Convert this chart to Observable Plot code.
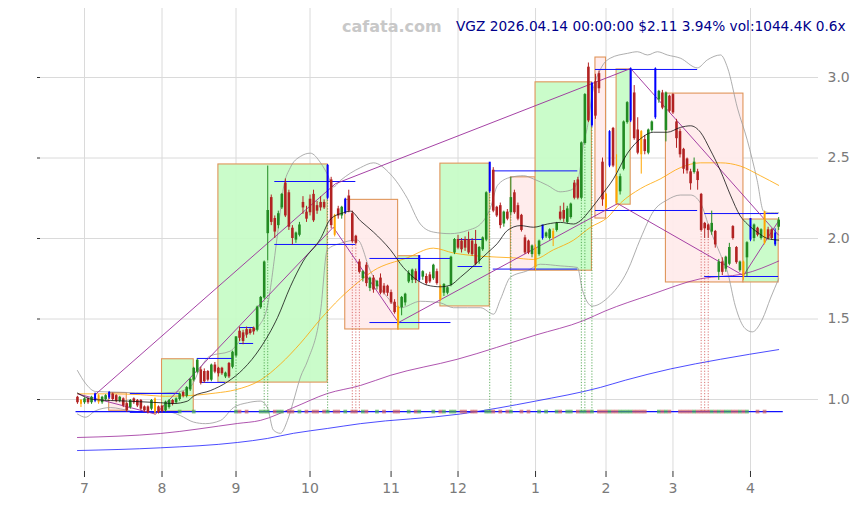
<!DOCTYPE html>
<html><head><meta charset="utf-8">
<script src="https://cdn.jsdelivr.net/npm/d3@7"></script>
<script src="https://cdn.jsdelivr.net/npm/@observablehq/plot@0.6"></script>
<style>
html,body{margin:0;padding:0;background:#fff;}
#chart{width:861px;height:505px;position:relative;}
</style></head><body><div id="chart"></div>
<script>
// ---- daily candles (trading-day index 0..199) ----
const O = [1.01,0.99,0.98,1.00,0.98,0.99,1.02,0.98,1.00,1.01,1.03,1.02,0.99,1.00,0.97,0.95,1.00,0.99,0.99,0.95,
0.95,0.94,1.00,0.95,0.955,0.93,0.95,0.99,0.98,1.00,1.04,1.02,1.06,1.12,1.17,1.18,1.17,1.17,1.12,1.21,
1.19,1.19,1.14,1.22,1.20,1.27,1.42,1.41,1.43,1.43,1.44,1.43,1.57,1.63,2.03,2.25,2.12,2.08,2.19,2.34,
2.28,2.06,1.99,2.02,2.22,2.16,2.24,2.27,2.20,2.22,2.22,2.25,2.36,2.14,2.18,2.14,2.16,2.26,2.15,2.01,
1.85,1.75,1.83,1.69,1.75,1.70,1.75,1.70,1.70,1.66,1.60,1.57,1.57,1.60,1.73,1.74,1.79,1.74,1.76,1.76,
1.77,1.75,1.79,1.70,1.66,1.66,1.71,1.91,1.99,1.98,1.99,1.99,1.98,1.96,1.86,1.93,1.99,2.29,2.42,2.19,
2.20,2.09,2.16,2.16,2.28,2.20,2.14,2.00,1.98,1.90,1.94,1.90,2.00,2.01,2.00,2.00,2.05,2.16,2.17,2.10,
2.13,2.34,2.36,2.25,2.59,3.06,2.70,2.97,3.02,2.47,2.27,2.45,2.68,2.38,2.29,2.43,2.72,2.73,2.90,2.67,
2.66,2.61,2.53,2.67,2.75,2.86,2.90,2.67,2.88,2.89,2.72,2.66,2.55,2.49,2.41,2.41,2.41,2.27,2.09,2.08,
2.04,2.04,1.79,1.85,1.81,1.84,2.07,1.94,1.80,1.85,1.88,1.99,2.00,2.06,2.00,2.16,2.05,2.05,1.96,2.07];
const H = [1.02,1.00,1.01,1.01,1.02,1.04,1.03,1.02,1.03,1.05,1.04,1.03,1.02,1.01,0.98,1.00,1.01,1.00,1.00,0.96,
0.96,1.00,1.01,0.96,0.96,0.99,1.00,1.00,1.01,1.04,1.05,1.08,1.13,1.20,1.25,1.20,1.19,1.18,1.22,1.23,
1.20,1.20,1.17,1.23,1.30,1.39,1.45,1.43,1.45,1.44,1.45,1.58,1.64,1.86,2.45,2.27,2.14,2.17,2.28,2.37,
2.30,2.08,2.04,2.10,2.26,2.20,2.27,2.30,2.23,2.26,2.24,2.46,2.38,2.15,2.20,2.20,2.25,2.30,2.17,2.02,
1.87,1.80,1.85,1.76,1.77,1.74,1.78,1.72,1.71,1.68,1.62,1.58,1.64,1.66,1.80,1.81,1.81,1.89,1.80,1.78,
1.79,1.84,1.81,1.71,1.72,1.70,1.89,2.00,2.02,2.00,2.01,2.04,2.00,2.05,1.95,2.01,2.29,2.47,2.44,2.20,
2.22,2.17,2.18,2.38,2.30,2.22,2.15,2.02,1.99,1.96,1.96,1.99,2.08,2.04,2.06,2.06,2.10,2.20,2.22,2.20,
2.22,2.36,2.38,2.60,2.90,3.09,2.97,3.02,3.04,2.50,2.28,2.67,2.69,2.52,2.40,2.73,2.85,3.06,2.95,2.75,
2.67,2.64,2.68,2.73,3.06,2.92,2.92,2.91,2.89,2.90,2.74,2.68,2.56,2.50,2.43,2.50,2.43,2.28,2.10,2.09,
2.17,2.05,1.87,1.88,1.89,1.97,2.08,1.95,1.86,1.86,1.98,2.12,2.09,2.07,2.06,2.17,2.07,2.06,2.06,2.13];
const L = [0.97,0.95,0.97,0.97,0.97,0.98,0.97,0.97,0.99,1.00,0.99,0.98,0.98,0.95,0.92,0.94,0.97,0.95,0.93,0.92,
0.91,0.93,0.905,0.91,0.915,0.92,0.94,0.96,0.97,0.99,1.01,1.01,1.05,1.11,1.16,1.09,1.10,1.11,1.11,1.16,
1.14,1.15,1.13,1.13,1.19,1.26,1.36,1.34,1.38,1.40,1.40,1.42,1.56,1.62,1.86,2.08,2.00,2.06,2.18,2.13,
2.05,1.96,1.97,2.01,2.15,2.10,2.14,2.10,2.15,2.17,2.18,2.24,2.06,2.01,2.12,2.12,2.15,2.16,1.97,1.96,
1.78,1.73,1.70,1.67,1.66,1.68,1.65,1.65,1.64,1.59,1.53,1.43,1.52,1.58,1.72,1.72,1.72,1.73,1.74,1.71,
1.72,1.74,1.71,1.61,1.64,1.65,1.70,1.90,1.93,1.91,1.92,1.90,1.89,1.83,1.84,1.92,1.98,2.28,2.16,2.13,
2.06,2.07,2.11,2.14,2.15,2.11,2.04,1.90,1.90,1.88,1.80,1.89,1.99,2.00,1.99,1.95,2.04,2.11,2.10,2.09,
2.12,2.24,2.24,2.24,2.58,2.72,2.69,2.74,2.90,2.20,2.18,2.44,2.44,2.21,2.27,2.42,2.71,2.72,2.61,2.52,
2.40,2.52,2.52,2.66,2.74,2.84,2.80,2.60,2.78,2.77,2.56,2.50,2.40,2.40,2.30,2.40,2.30,2.04,2.00,2.00,
2.02,1.94,1.74,1.77,1.79,1.83,1.99,1.84,1.79,1.74,1.76,1.98,1.98,2.01,1.99,1.96,1.99,1.99,1.95,2.05];
const C = [0.98,0.97,1.00,0.98,1.01,1.03,0.98,1.01,1.02,1.04,1.00,0.99,1.01,0.96,0.93,0.99,0.98,0.96,0.94,0.93,
0.92,0.99,0.92,0.92,0.925,0.98,0.99,0.97,1.00,1.03,1.02,1.07,1.12,1.19,1.24,1.10,1.11,1.12,1.21,1.17,
1.16,1.16,1.16,1.14,1.29,1.385,1.38,1.36,1.40,1.41,1.42,1.57,1.63,1.85,2.17,2.10,2.04,2.15,2.27,2.14,
2.07,2.00,2.03,2.08,2.19,2.12,2.16,2.11,2.17,2.19,2.19,2.45,2.08,2.02,2.14,2.19,2.24,2.17,1.98,1.97,
1.79,1.79,1.72,1.75,1.68,1.73,1.66,1.66,1.66,1.60,1.54,1.46,1.63,1.65,1.78,1.80,1.74,1.89,1.79,1.72,
1.73,1.83,1.72,1.62,1.71,1.69,1.88,1.99,1.94,1.93,1.94,1.91,1.90,1.84,1.94,2.00,2.28,2.47,2.17,2.14,
2.08,2.16,2.12,2.25,2.16,2.12,2.05,1.91,1.91,1.95,1.82,1.98,2.08,2.03,2.05,2.04,2.09,2.12,2.12,2.18,
2.21,2.25,2.25,2.59,2.89,2.73,2.96,2.76,2.93,2.24,2.19,2.66,2.45,2.22,2.38,2.72,2.84,3.05,2.62,2.53,
2.52,2.54,2.67,2.72,3.05,2.91,2.81,2.90,2.79,2.78,2.62,2.52,2.43,2.42,2.34,2.47,2.36,2.05,2.06,2.05,
2.09,1.96,1.85,1.79,1.88,1.94,2.00,1.85,1.85,1.76,1.97,2.12,2.08,2.02,2.05,1.97,2.00,2.00,2.03,2.11];
const blueIdx   = [5,9,71,76,97,117,132,146,151,157,164,191,198];
const orangeIdx = [1,6,22,73,91,103,130,135,150,153,160,189,195];

// ---- axis ticks ----
const monthTickIdx = [2,24,45,66,89,108,130,150,169,191];
const monthLabels  = ["7","8","9","10","11","12","1","2","3","4"];
const yTicks = [1.0,1.5,2.0,2.5,3.0];

// ---- indicator lines, [index, value] ----
const maShort = [[0,1.04],[4.5,1.00],[14.2,0.99],[23.6,0.98],[27.2,0.975],[31.2,0.99],[32.9,1.02],[37.7,1.055],[42.6,1.11],[47.1,1.19],[51.9,1.32],[56.8,1.51],[60.4,1.70],[64.1,1.86],[69,2.0],[71.8,2.12],[75.5,2.16],[77.5,2.17],[80.3,2.11],[84,2.04],[88.8,1.93],[92.5,1.82],[96.5,1.74],[99.3,1.71],[103,1.70],[105.8,1.71],[108.7,1.76],[112.4,1.83],[116.3,1.91],[119.2,1.97],[122,2.05],[125.7,2.08],[129.4,2.07],[133.4,2.09],[137,2.10],[140.8,2.09],[142.7,2.11],[145.6,2.18],[148.4,2.26],[152.1,2.37],[156.1,2.53],[159.8,2.62],[163.5,2.66],[167.4,2.66],[171.1,2.69],[174,2.70],[176.8,2.66],[179.6,2.55],[182.5,2.42],[185.3,2.27],[188.1,2.14],[190.1,2.09],[192.9,2.04],[195.8,2.00],[199,1.99]];
const maMid = [[0,1.035],[9.4,1.035],[17.9,1.03],[25,1.02],[32.1,1.025],[39.2,1.04],[44.8,1.06],[51.9,1.12],[57.6,1.22],[63.3,1.35],[69,1.50],[74.6,1.63],[80.3,1.74],[84,1.80],[93.6,1.88],[101,1.94],[106.7,1.91],[114.4,1.89],[123.7,1.88],[129.4,1.87],[135.1,1.93],[140.8,1.99],[145.6,2.07],[150.4,2.13],[154.1,2.22],[159.8,2.31],[165.4,2.37],[171.1,2.44],[176.8,2.47],[182.5,2.47],[188.1,2.45],[193.8,2.39],[199,2.33]];
const bandUpper = [[0,1.18],[2.3,1.10],[5.1,1.05],[12.2,1.045],[20.7,1.04],[27.8,1.045],[32.1,1.08],[35,1.2],[37.6,1.27],[43.3,1.30],[47.1,1.39],[51.9,1.47],[53.6,1.55],[56.8,2.03],[58.5,2.32],[60.4,2.44],[63.3,2.51],[66.1,2.53],[69,2.47],[70.9,2.40],[72.6,2.32],[74.6,2.36],[80.3,2.44],[84,2.47],[88.8,2.40],[93.6,2.25],[97.3,2.09],[101,2.04],[105.8,2.03],[110.7,2.05],[114.4,2.09],[117.2,2.19],[119.2,2.33],[122.9,2.38],[126.6,2.39],[129.4,2.37],[133.4,2.33],[137,2.29],[139.9,2.30],[141.9,2.35],[142.7,2.44],[143.6,2.59],[144.7,2.69],[146.1,2.90],[148.4,3.05],[151.2,3.12],[156.1,3.15],[158.9,3.16],[161.8,3.14],[164.6,3.16],[167.4,3.14],[171.1,3.12],[175.9,3.06],[178.8,3.11],[182.5,3.14],[184.5,3.06],[187.3,2.81],[190.1,2.61],[192.9,2.36],[194.7,2.17],[196.7,2.16],[199,2.16]];
const bandLower = [[0,0.91],[2.3,0.89],[5.1,0.93],[9.4,0.95],[15,0.93],[20.7,0.92],[26.4,0.92],[29.2,0.90],[32.9,0.86],[36.3,0.85],[40.6,0.87],[44.3,0.95],[48.3,0.98],[51.9,0.99],[53.9,0.95],[55.6,0.81],[57.6,0.79],[59.6,0.87],[61.3,0.99],[63.3,1.14],[65.3,1.24],[69,1.55],[70.9,1.93],[74.6,1.97],[79.5,1.99],[83.1,1.80],[87.4,1.65],[91.7,1.57],[97.3,1.61],[103,1.60],[106.7,1.57],[110.7,1.57],[114.4,1.57],[118.1,1.53],[120,1.62],[122.9,1.76],[127.7,1.80],[131.4,1.84],[137,1.83],[141.9,1.82],[143.3,1.68],[146.1,1.58],[150.4,1.63],[156.1,1.80],[159.8,2.0],[163.5,2.17],[167.4,2.24],[171.1,2.27],[174,2.27],[176.8,2.22],[179.6,2.05],[182.5,1.90],[184.5,1.79],[186.7,1.58],[189.5,1.44],[191.5,1.42],[194.4,1.50],[196.7,1.63],[199,1.75]];
const maLongA = [[0,0.764],[23.6,0.789],[45.4,0.851],[51.9,0.87],[61.3,0.95],[70.9,1.037],[80.3,1.087],[88.8,1.15],[107.8,1.25],[130,1.40],[143.6,1.49],[149.8,1.55],[162.6,1.65],[176.8,1.75],[189,1.78],[199,1.86]];
const maLongB = [[0,0.683],[23.6,0.70],[45.4,0.733],[53.9,0.758],[61.3,0.79],[70.9,0.82],[80.3,0.85],[108.7,0.91],[130,0.99],[148.4,1.075],[155.5,1.12],[168.3,1.19],[182.5,1.25],[199,1.31]];

// ---- boxes: [startIdx, endIdx, top, bottom, rising?] ----
const boxes = [[9,14,1.04,0.93,false],[24,33,1.25,0.925,true],[40,71,2.46,1.105,true],[76,91,2.24,1.435,false],[91,97,1.89,1.435,true],[103,117,2.465,1.578,true],[123,130,2.38,1.80,false],[130,146,2.97,1.80,true],[147,150,3.124,2.124,false],[153,157,3.05,2.21,true],[167,189,2.90,1.727,false],[189,199,2.118,1.727,true]];
// ---- blue support / resistance segments: [startIdx, endIdx, value] ----
const levels = [[15,29,1.037],[15,29,0.92],[34,44,1.255],[35,42,1.106],[46,50,1.447],[46,50,1.348],[56,79,2.354],[56,79,1.963],[83,106,1.876],[83,106,1.478],[108,115,1.994],[108,115,1.826],[118,142,2.42],[118,142,1.81],[147,176,3.05],[147,176,2.174],[178,199,2.155],[178,199,1.764]];
const floorLevel = 0.925;
// ---- purple trend lines: [i1, v1, i2, v2] ----
const trendLines = [[0,1.035,22,0.91],[5,1.03,73.2,2.34],[73.2,2.34,157,3.056],[22,0.905,72.6,2.07],[72.6,2.07,91.1,1.478],[91.1,1.478,153.3,2.217],[153.3,2.217,189,1.77],[189,1.77,199,2.11],[157,3.056,199,2.02]];
// ---- volume flags on the floor line and dotted drops ----
const volMarks = [29,33,45,46,48,52,53,54,56,57,58,60,61,63,65,67,68,70,71,73,74,76,78,79,81,82,85,87,90,91,94,96,97,101,103,104,106,107,109,110,112,113,116,117,118,120,122,123,126,128,131,133,136,137,139,140,142,143,144,145,146,148,149,150,151,152,153,154,155,156,157,158,159,160,161,165,166,167,168,171,172,173,174,175,176,177,178,179,180,181,182,183,184,185,186,187,188,189,190,193,195];
const dropGreen = [45,53,54,71,117,123,143,144,146];
const dropRed = [78,79,80,177,178,179];

const titleText = "VGZ 2026.04.14 00:00:00 $2.11 3.94% vol:1044.4K 0.6x";
const watermark = "cafata.com";

// ---- build tables ----
const candles = O.map((o, i) => ({
  i, o, h: H[i], l: L[i], c: C[i],
  kind: blueIdx.includes(i) ? "blue" : orangeIdx.includes(i) ? "orange" : (C[i] >= o ? "up" : "down")
}));
const col = {up: "#228b22", down: "#b22222", blue: "#0000ff", orange: "#ffa500"};
const boxData = boxes.map(([i1, i2, t, b, up]) => ({i1, i2, t, b, up}));
const levelData = levels.map(([i1, i2, v]) => ({i1, i2, v}));
const trendData = trendLines.map(([i1, v1, i2, v2]) => ({i1, v1, i2, v2}));
const volData = volMarks.map(i => ({i, up: C[i] >= O[i]}));
const drops = [...dropGreen.map(i => ({i, low: L[i], s: "#3a9a3a"})), ...dropRed.map(i => ({i, low: L[i], s: "#d05050"}))];

const lineOpts = (stroke, w) => ({x: d => d[0], y: d => d[1], stroke, strokeWidth: w, curve: "monotone-x"});

const chart = Plot.plot({
  width: 861, height: 505,
  marginLeft: 40, marginRight: 43, marginTop: 8, marginBottom: 34,
  x: {domain: [-10.486, 210.30], label: null},
  y: {domain: [0.5528, 3.4286], label: null},
  style: {background: "white", fontFamily: "DejaVu Sans"},
  marks: [
    Plot.gridY(yTicks, {stroke: "#dadada", strokeOpacity: 1}),
    Plot.gridX(monthTickIdx, {stroke: "#dadada", strokeOpacity: 1}),
    Plot.rect(boxData, {x1: "i1", x2: "i2", y1: "b", y2: "t",
      fill: d => d.up ? "#c6fcc6" : "#ffeaea", fillOpacity: 0.92,
      stroke: "#e0955a", strokeWidth: 1.1}),
    Plot.line(maLongB, lineOpts("#2020ff", 0.8)),
    Plot.line(maLongA, lineOpts("#9a2a9a", 0.8)),
    Plot.line(bandUpper, lineOpts("#999999", 0.8)),
    Plot.line(bandLower, lineOpts("#999999", 0.8)),
    Plot.line(maMid, lineOpts("#ffa500", 0.8)),
    Plot.ruleX(drops, {x: "i", y1: floorLevel, y2: "low", stroke: "s", strokeWidth: 0.8, strokeDasharray: "1.2,1.6"}),
    Plot.ruleY(levelData, {x1: "i1", x2: "i2", y: "v", stroke: "#1010ff", strokeWidth: 1}),
    Plot.ruleY([floorLevel], {x1: -0.4, x2: 200.3, stroke: "#1010ff", strokeWidth: 1.4}),
    Plot.dot(volData, {x: "i", y: floorLevel, symbol: "square", r: 2.1,
      fill: d => d.up ? "#4caf50" : "#d06060", fillOpacity: 0.7}),
    Plot.link(trendData, {x1: "i1", y1: "v1", x2: "i2", y2: "v2", stroke: "#9b2d9b", strokeWidth: 0.9}),
    Plot.ruleX(candles, {x: "i", y1: "l", y2: "h", stroke: d => col[d.kind], strokeWidth: 1}),
    Plot.ruleX(candles, {x: "i", y1: d => Math.min(d.o, d.c), y2: d => Math.max(d.o, d.c) + 0.004,
      stroke: d => col[d.kind], strokeWidth: d => (d.kind === "blue" || d.kind === "orange") ? 2 : 2.6}),
    Plot.line(maShort, lineOpts("#111111", 0.8)),
    Plot.axisX(monthTickIdx, {tickSize: 6, tickFormat: () => "", color: "#333", label: null}),
    Plot.axisX(monthTickIdx, {tickSize: 0, tickPadding: 12, fontSize: 14, color: "#7a7a7a", label: null,
      tickFormat: d => monthLabels[monthTickIdx.indexOf(d)]}),
    Plot.axisY(yTicks, {anchor: "left", tickSize: 3, tickFormat: () => "", color: "#333", label: null}),
    Plot.axisY(yTicks, {anchor: "right", tickSize: 0, tickPadding: 9, fontSize: 14, color: "#7a7a7a", label: null,
      tickFormat: d => d.toFixed(1)})
  ]
});
document.getElementById("chart").appendChild(chart);

const svg = d3.select(chart);
svg.append("text").attr("x", 342).attr("y", 31.5).attr("text-anchor", "start")
  .attr("font-family", "DejaVu Sans").attr("font-weight", "bold").attr("font-size", 16)
  .attr("fill", "#c8c8c8").text(watermark);
svg.append("text").attr("x", 456).attr("y", 31).attr("text-anchor", "start")
  .attr("font-family", "DejaVu Sans").attr("font-size", 13.7)
  .attr("fill", "#00008b").text(titleText);
</script></body></html>
